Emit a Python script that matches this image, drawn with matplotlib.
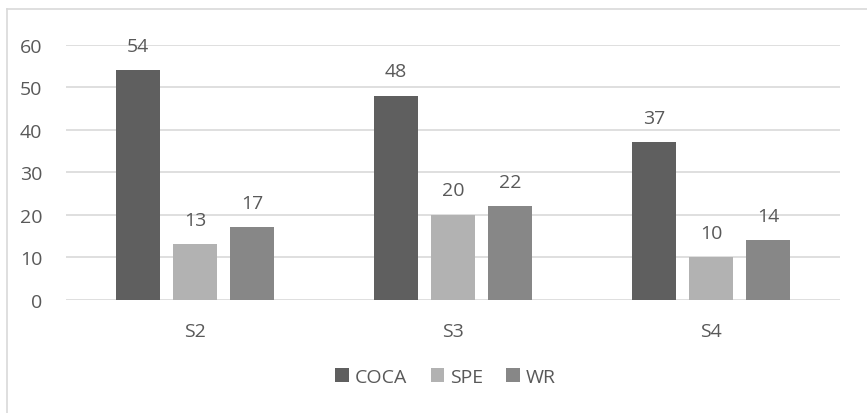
import matplotlib.pyplot as plt
from matplotlib.lines import Line2D
import numpy as np

categories = ["S2", "S3", "S4"]
series_names = ["COCA", "SPE", "WR"]
coca = [54, 48, 37]
spe = [13, 20, 10]
wr = [17, 22, 14]
colors = ["#5f5f5f", "#b2b2b2", "#878787"]
yticks = [0, 10, 20, 30, 40, 50, 60]

text_color = "#595959"
grid_color = "#d9d9d9"
fsize = 14
plt.rcParams["font.family"] = ["Open Sans", "DejaVu Sans"]

fig = plt.figure(figsize=(8.67, 4.14), dpi=100)
ax = fig.add_axes([0.0761, 0.2737, 0.8928, 0.6159])

x = np.arange(len(categories))
width = 0.174
step = 0.221
for i, (name, vals) in enumerate(zip(series_names, [coca, spe, wr])):
    bars = ax.bar(x + (i - 1) * step, vals, width, color=colors[i], label=name, zorder=3)
    for b, v in zip(bars, vals):
        ax.annotate(str(v), (b.get_x() + b.get_width() / 2, v), xytext=(0, 11),
                    textcoords="offset points", ha="center", va="bottom",
                    fontsize=fsize, color=text_color)

ax.set_xlim(-0.5, 2.5)
ax.set_ylim(0, 60)
ax.set_yticks(yticks)
ax.set_xticks(x)
ax.set_xticklabels(categories)
ax.yaxis.grid(True, color=grid_color, linewidth=1.2, zorder=0)
for s in ax.spines.values():
    s.set_visible(False)
ax.tick_params(length=0, labelsize=fsize, colors=text_color)
ax.tick_params(axis="x", pad=16)
ax.tick_params(axis="y", pad=17)

fig.legend(loc="center", bbox_to_anchor=(0.514, 0.087), ncol=3, frameon=False,
           fontsize=fsize, labelcolor=text_color, handlelength=0.7, handleheight=0.7,
           handletextpad=0.3, columnspacing=1.2)

# outer chart border (top and left edges)
fig.add_artist(Line2D([7 / 867, 1], [1 - 10 / 414, 1 - 10 / 414], color=grid_color, lw=1.2))
fig.add_artist(Line2D([7 / 867, 7 / 867], [1 - 10 / 414, 0], color=grid_color, lw=1.2))

fig.savefig("out.png", dpi=100)
